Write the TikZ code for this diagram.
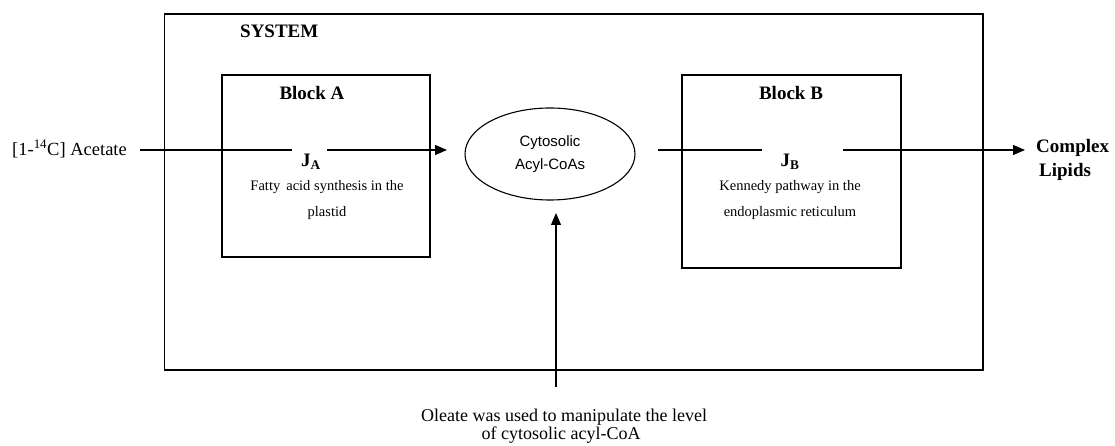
\documentclass[tikz,border=0pt]{standalone}
\usepackage{fontspec}
\setmainfont{Liberation Serif}
\newfontfamily\arialf{Liberation Sans}
\usetikzlibrary{shapes.geometric,arrows.meta}
\begin{document}
\begin{tikzpicture}[x=1pt,y=-1pt,
  conn/.style={line width=1.1pt},
  arr/.style={conn,-{Triangle[length=12pt,width=10pt]}},
  title/.style={font=\fontsize{19}{22}\selectfont\bfseries,inner sep=0pt},
  small/.style={font=\fontsize{14.5}{17}\selectfont,inner sep=0pt},
  jlab/.style={font=\fontsize{19}{22}\selectfont\bfseries,inner sep=0pt}]
\useasboundingbox (0,0) rectangle (1115,446);
% system
\draw[line width=1.1pt] (164.5,14) rectangle (983,370);
\node[title,anchor=west] (sys) at (240,31) {SYSTEM};
% blocks
\draw[line width=1.1pt] (222,75) rectangle (430,257);
\node[title] (blockA) at (312,93) {Block A};
\draw[line width=1.1pt] (682,75) rectangle (901,268);
\node[title] (blockB) at (791,93) {Block B};
% texts
\node[small] (fa1) at (327,187) {Fatty\, acid synthesis in the};
\node[small] (fa2) at (327,213) {plastid};
\node[small] (kp1) at (790,187) {Kennedy pathway in the};
\node[small] (kp2) at (790,213) {endoplasmic reticulum};
\node[jlab] (JA) at (311,162) {J\textsubscript{A}};
\node[jlab] (JB) at (790,162) {J\textsubscript{B}};
% inputs / outputs
\node[font=\fontsize{18.5}{22}\selectfont,anchor=west,inner sep=0pt] (acet) at (12,149) {[1-\textsuperscript{14}C] Acetate};
\node[font=\fontsize{19}{24}\selectfont\bfseries,anchor=west,align=left,inner sep=0pt] (lip) at (1036,160) {Complex\\\hspace{3pt}Lipids};
\node[draw,ellipse,line width=1.1pt,minimum width=170pt,minimum height=92pt,inner sep=0pt,
  font=\arialf\fontsize{15}{23}\selectfont,align=center] (cyto) at (550,154) {Cytosolic\\Acyl-CoAs};
% gaps
\coordinate (jaL) at (292,150);
\coordinate (jaR) at (327,150);
\coordinate (jbL) at (762,150);
\coordinate (jbR) at (843,150);
\coordinate (ol) at (556,387);
\draw[conn] (140,150) -- (jaL);
\draw[arr] (jaR) -- (447,150);
\draw[conn] (658,150) -- (jbL);
\draw[arr] (jbR) -- (1025,150);
\draw[arr] (ol) -- (556,213);
\node[font=\fontsize{18}{18}\selectfont,inner sep=0pt] (ole1) at (564,417) {Oleate was used to manipulate the level};
\node[font=\fontsize{18}{18}\selectfont,inner sep=0pt] (ole2) at (561,435) {of cytosolic acyl-CoA};
\end{tikzpicture}
\end{document}
